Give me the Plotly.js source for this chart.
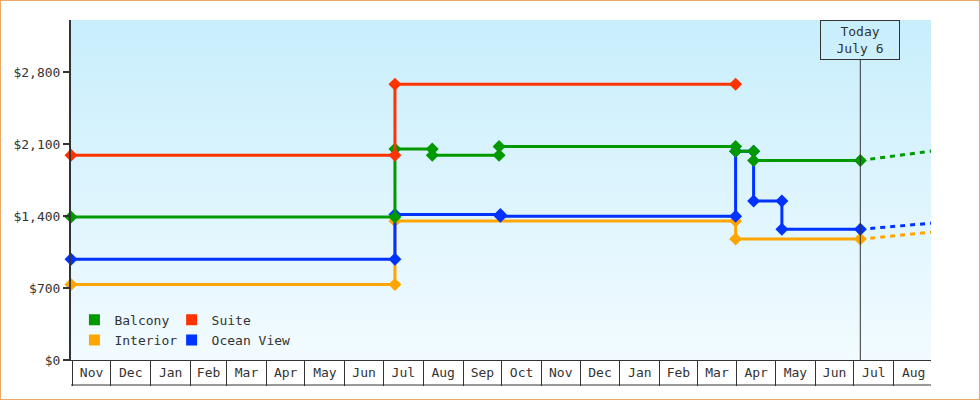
<!DOCTYPE html>
<html>
<head>
<meta charset="utf-8">
<script src="https://cdn.plot.ly/plotly-3.0.1.min.js"></script>
<style>
body { margin: 0; background: #fff; }
#chart { width: 980px; height: 400px; box-sizing: border-box; border: 1px solid #e8aa66; }
</style>
</head>
<body>
<div id="chart"></div>
<script>
// fare history per cabin type
var interiorDates = ['2014-10-31', '2015-07-10', '2015-07-10', '2016-03-31', '2016-03-31', '2016-07-06'];
var interiorPrices = [735, 735, 1350, 1350, 1175, 1175];

var oceanDates = ['2014-10-31', '2015-07-10', '2015-07-10', '2015-09-30', '2015-09-30', '2016-03-31',
                  '2016-03-31', '2016-04-14', '2016-04-14', '2016-05-06', '2016-05-06', '2016-07-06'];
var oceanPrices = [980, 980, 1415, 1415, 1397, 1397, 2030, 2030, 1545, 1545, 1270, 1270];

var balconyDates = ['2014-10-31', '2015-07-10', '2015-07-10', '2015-08-08', '2015-08-08', '2015-09-29',
                    '2015-09-29', '2016-03-31', '2016-03-31', '2016-04-14', '2016-04-14', '2016-07-06'];
var balconyPrices = [1390, 1390, 2050, 2050, 1990, 1990, 2075, 2075, 2030, 2030, 1940, 1940];

var suiteDates = ['2014-10-31', '2015-07-10', '2015-07-10', '2016-03-31'];
var suitePrices = [1990, 1990, 2680, 2680];

// dotted forecast after today
var forecastDates = ['2016-07-06', '2016-08-01', '2016-08-30'];
var balconyForecast = [1940, 1985, 2030];
var oceanForecast = [1270, 1300, 1330];
var interiorForecast = [1175, 1207, 1242];

var todayDate = '2016-07-06';
var todayLabel = 'Today<br>July 6';

var colors = {
    'Balcony': '#009900',
    'Suite': '#ff3300',
    'Interior': '#ffa500',
    'Ocean View': '#0033ff'
};

var monoFont = '"DejaVu Sans Mono", "Liberation Mono", monospace';

function historyTrace(name, dates, prices) {
    return {
        x: dates,
        y: prices,
        name: name,
        type: 'scatter',
        mode: 'lines+markers',
        line: {color: colors[name], width: 3},
        marker: {symbol: 'diamond', size: 10, color: colors[name]},
        cliponaxis: false,
        showlegend: false,
        hoverinfo: 'x+y'
    };
}

function forecastTrace(name, dates, prices) {
    return {
        x: dates,
        y: prices,
        name: name,
        type: 'scatter',
        mode: 'lines',
        line: {color: colors[name], width: 3, dash: '5px,5px'},
        showlegend: false,
        hoverinfo: 'skip'
    };
}

// legend only entries, square swatches
function legendTrace(name, legendId) {
    return {
        x: [null],
        y: [null],
        name: name,
        type: 'scatter',
        mode: 'markers',
        marker: {symbol: 'square', size: 11, color: colors[name]},
        legend: legendId,
        hoverinfo: 'skip'
    };
}

var data = [
    forecastTrace('Interior', forecastDates, interiorForecast),
    forecastTrace('Ocean View', forecastDates, oceanForecast),
    forecastTrace('Balcony', forecastDates, balconyForecast),
    historyTrace('Interior', interiorDates, interiorPrices),
    historyTrace('Ocean View', oceanDates, oceanPrices),
    historyTrace('Balcony', balconyDates, balconyPrices),
    historyTrace('Suite', suiteDates, suitePrices),
    legendTrace('Balcony', 'legend'),
    legendTrace('Suite', 'legend2'),
    legendTrace('Interior', 'legend3'),
    legendTrace('Ocean View', 'legend4')
];

var bgSvg = '<svg xmlns="http://www.w3.org/2000/svg" width="100" height="100" preserveAspectRatio="none">' +
    '<defs><linearGradient id="g" x1="0" y1="0" x2="0" y2="1">' +
    '<stop offset="0" stop-color="#c8eefc"/><stop offset="1" stop-color="#f2fbff"/>' +
    '</linearGradient></defs><rect width="100" height="100" fill="url(#g)"/></svg>';

function legendBox(x, y) {
    return {
        x: x, y: y, xanchor: 'left', yanchor: 'top',
        bgcolor: 'rgba(0,0,0,0)', borderwidth: 0,
        font: {family: monoFont, size: 13, color: '#333'}
    };
}

var layout = {
    width: 978,
    height: 398,
    margin: {l: 70, r: 48, t: 19, b: 39},
    paper_bgcolor: '#fff',
    plot_bgcolor: 'rgba(0,0,0,0)',
    font: {family: monoFont, size: 13, color: '#333'},
    xaxis: {
        type: 'date',
        range: ['2014-10-31', '2016-08-30'],
        showgrid: false,
        zeroline: false,
        showline: true,
        linecolor: '#333',
        linewidth: 1,
        ticks: 'outside',
        ticklen: 25,
        tickwidth: 1,
        tickcolor: '#333',
        tick0: '2014-11-01',
        dtick: 'M1',
        tickformat: '%b',
        ticklabelmode: 'period',
        ticklabelstandoff: -25,
        automargin: false,
        fixedrange: true
    },
    yaxis: {
        range: [0, 3305],
        showgrid: false,
        zeroline: false,
        showline: true,
        linecolor: '#333',
        linewidth: 2,
        ticks: 'outside',
        ticklen: 6,
        tickwidth: 2,
        tickcolor: '#333',
        tick0: 0,
        dtick: 700,
        tickprefix: '$',
        tickformat: ',d',
        automargin: false,
        fixedrange: true
    },
    images: [{
        source: 'data:image/svg+xml;charset=utf-8,' + encodeURIComponent(bgSvg),
        xref: 'paper', yref: 'paper',
        x: 0, y: 1, sizex: 1, sizey: 1,
        sizing: 'stretch',
        xanchor: 'left', yanchor: 'top',
        layer: 'below'
    }],
    shapes: [
        {   // today marker line
            type: 'line', xref: 'x', yref: 'paper',
            x0: todayDate, x1: todayDate, y0: 0, y1: 300 / 340,
            line: {color: '#333', width: 1}
        },
        {   // bottom edge of the month boxes
            type: 'line', xref: 'paper', yref: 'paper',
            x0: 0, x1: 1, y0: -25 / 340, y1: -25 / 340,
            line: {color: '#333', width: 1}
        }
    ],
    annotations: [{
        x: todayDate, xref: 'x',
        y: 1, yref: 'paper',
        yanchor: 'top',
        text: todayLabel,
        showarrow: false,
        font: {family: monoFont, size: 13, color: '#333'},
        bordercolor: '#333',
        borderwidth: 1,
        borderpad: 0,
        width: 78,
        height: 38
    }],
    legend: legendBox(0.004, 0.162),
    legend2: legendBox(0.117, 0.162),
    legend3: legendBox(0.004, 0.103),
    legend4: legendBox(0.117, 0.103),
    hovermode: 'closest'
};

Plotly.newPlot('chart', data, layout, {displayModeBar: false});
</script>
</body>
</html>
